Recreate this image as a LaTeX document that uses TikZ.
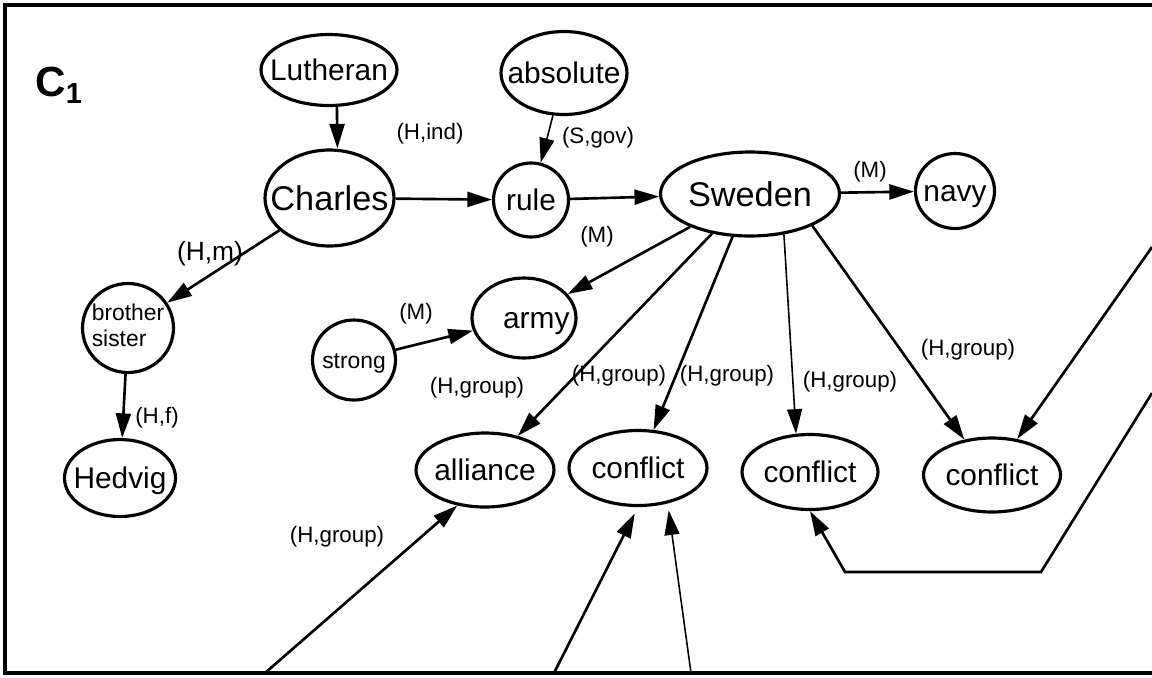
\documentclass[tikz,border=0pt]{standalone}
\usepackage{fontspec}
\setmainfont{Liberation Sans}
\usetikzlibrary{shapes.geometric,arrows.meta}

% keep the text from widening the ellipse
\newcommand{\nowide}[1]{\makebox[0pt]{#1}}

\begin{document}
\begin{tikzpicture}[
        x=0.02cm, y=-0.02cm,
        entity/.style={draw, ellipse, line width=1.8pt, inner sep=0pt, text height=12.2pt, text depth=0pt, font=\fontsize{17}{19}\selectfont},
        bigentity/.style={entity, text height=14pt, font=\fontsize{19.5}{22}\selectfont},
        smallentity/.style={entity, text height=9.4pt, font=\fontsize{13}{15}\selectfont},
        relation/.style={-{Triangle[length=14pt, width=8.5pt]}, line width=1.5pt},
        thinrelation/.style={relation, line width=0.9pt},
        role/.style={inner sep=0pt, font=\fontsize{12.7}{14}\selectfont}
    ]
        \path[use as bounding box] (0,0) rectangle (1152,677);

        % open frame, cut off on the right
        \draw[line width=2.3pt] (1152,5) -- (5,5) -- (5,673) -- (1152,673);

        \node[anchor=base west, inner sep=0pt] (c1) at (35,96)
            {\fontsize{24}{24}\selectfont\bfseries C\raisebox{-4pt}{\fontsize{16.5}{16.5}\selectfont 1}};

        \node[entity, minimum width=2.72cm, minimum height=1.42cm] (lutheran) at (329,70) {\nowide{Lutheran}};
        \node[bigentity, minimum width=2.58cm, minimum height=1.92cm] (charles) at (329.5,198) {\nowide{Charles}};
        \node[entity, minimum width=2.52cm, minimum height=1.66cm] (absolute) at (564,73) {\nowide{absolute}};
        \node[entity, minimum width=1.5cm, minimum height=1.48cm] (rule) at (531,200) {\nowide{rule}};
        \node[bigentity, minimum width=3.58cm, minimum height=1.68cm] (sweden) at (750,194) {\nowide{Sweden}};
        \node[entity, minimum width=1.58cm, minimum height=1.5cm] (navy) at (955,191) {\nowide{navy}};

        \node[smallentity, text height=, text depth=, minimum width=1.82cm, minimum height=1.78cm] (sibling) at (128,328)
            {\nowide{\raisebox{-3pt}{\begin{tabular}{@{}l@{}}brother\\sister\end{tabular}}}};
        \node[entity, minimum width=2.22cm, minimum height=1.54cm] (hedvig) at (120,478) {\nowide{Hedvig}};
        \node[smallentity, minimum width=1.66cm, minimum height=1.6cm] (strong) at (354,360) {\nowide{strong}};
        \node[entity, minimum width=2.08cm, minimum height=1.6cm] (army) at (524,318) {\nowide{\hspace{14pt}army}};

        \node[entity, minimum width=2.76cm, minimum height=1.48cm] (alliance) at (485,470) {\nowide{alliance}};
        \node[entity, minimum width=2.76cm, minimum height=1.5cm] (conflictA) at (638,468) {\nowide{conflict}};
        \node[entity, minimum width=2.72cm, minimum height=1.5cm] (conflictB) at (810,472) {\nowide{conflict}};
        \node[entity, minimum width=2.74cm, minimum height=1.48cm] (conflictC) at (992,475) {\nowide{conflict}};

        % loose ends at the frame
        \coordinate (south1) at (265,673);
        \coordinate (south2) at (554,673);
        \coordinate (south3) at (691,673);
        \coordinate (east1) at (1152,247);
        \coordinate (east2) at (1152,393);
        \coordinate (bendR) at (1041,572);
        \coordinate (bendL) at (845,572);

        \draw[relation] ([xshift=4.5pt]lutheran.south) -- ([xshift=4.5pt]charles.north);
        \draw[relation] (charles) -- (rule);
        \draw[thinrelation] (absolute) -- (rule);
        \draw[relation] (rule) -- (sweden);
        \draw[relation] (sweden) -- (navy);
        \draw[relation] (charles) -- (sibling);
        \draw[relation] (sibling) -- (hedvig);
        \draw[relation] (strong) -- (army);
        \draw[relation] (sweden) -- (army);
        \draw[relation] (sweden) -- (alliance);
        \draw[relation] (sweden) -- (conflictA);
        \draw[thinrelation] (sweden.-50) -- (conflictB.110);
        \draw[relation] (sweden.-27) -- (conflictC.128);
        \draw[relation] (east1) -- (conflictC.55);
        \draw[relation] (east2) -- (bendR) -- (bendL) -- (conflictB.south);
        \draw[relation] (south1) -- (alliance.232);
        \draw[relation, shorten >=4pt] (south2) -- (conflictA.south);
        \draw[thinrelation, shorten >=4pt] (south3) -- (conflictA.-50);

        % relation tags
        \node[role] (tagInd) at (430,134) {(H,ind)};
        \node[role] (tagGov) at (598,138) {(S,gov)};
        \node[role] (tagArmy) at (597,237) {(M)};
        \node[role] (tagNavy) at (870,172) {(M)};
        \node[role, font=\fontsize{15}{17}\selectfont] (tagM) at (210,254) {(H,m)};
        \node[role] (tagF) at (157,418) {(H,f)};
        \node[role] (tagStrong) at (416,314) {(M)};
        \node[role] (tagGroupA) at (477,388) {(H,group)};
        \node[role] (tagGroupB) at (619,376) {(H,group)};
        \node[role] (tagGroupC) at (727,376) {(H,group)};
        \node[role] (tagGroupD) at (850,382) {(H,group)};
        \node[role] (tagGroupE) at (968,350) {(H,group)};
        \node[role] (tagGroupF) at (337,537) {(H,group)};
    \end{tikzpicture}
\end{document}
